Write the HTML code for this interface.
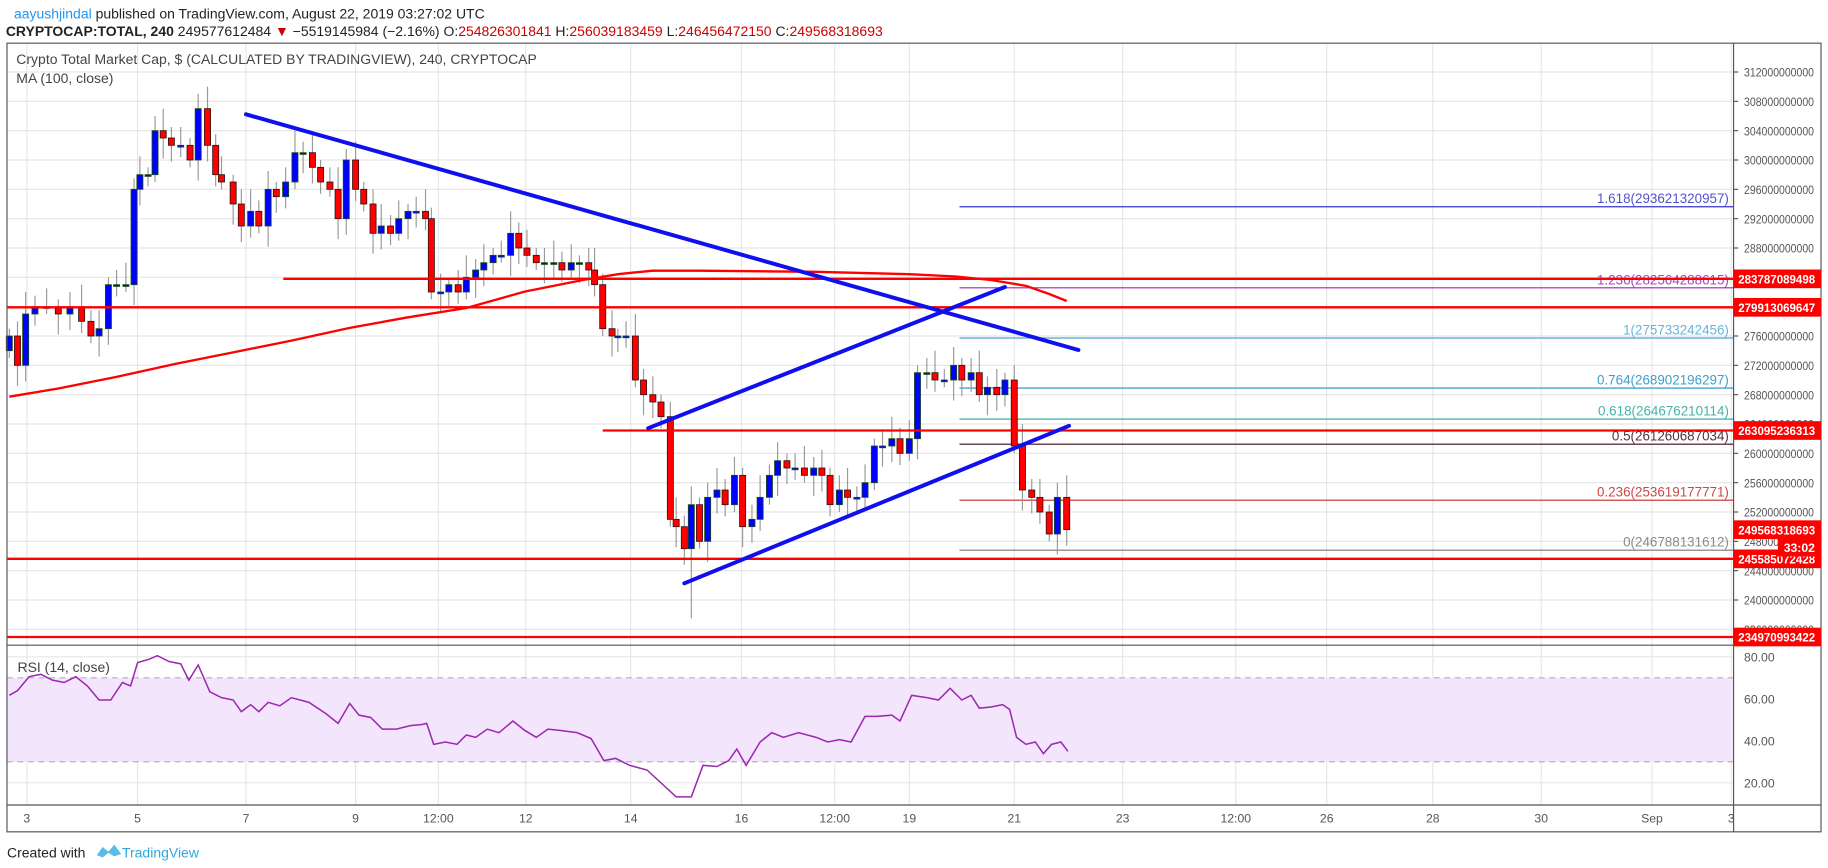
<!DOCTYPE html>
<html><head><meta charset="utf-8"><style>
html,body{margin:0;padding:0;background:#fff;width:1828px;height:868px;overflow:hidden}
svg{display:block;font-family:"Liberation Sans",sans-serif}
</style></head><body>
<svg id="s" width="1828" height="868" viewBox="0 0 1568 744" preserveAspectRatio="none">
<rect width="1568" height="744" fill="#fff"/>
<g id="grid" stroke="#e6e6e6" stroke-width="1"></g>
<rect x="6" y="581" width="1481" height="72" fill="#f3e5fc"/>
<line x1="6" x2="1487" y1="581" y2="581" stroke="#b8a8c0" stroke-dasharray="5,4"/>
<line x1="6" x2="1487" y1="653" y2="653" stroke="#b8a8c0" stroke-dasharray="5,4"/>
<g id="fib"></g>
<g id="cand"></g>
<polyline id="ma" fill="none" stroke="#f00" stroke-width="2" points="8,340 50,333 100,323 150,312 200,302 250,292 300,281 350,272 400,264 450,250 500,240 530,235 560,232 600,232 700,233 780,235 820,237 850,240 880,245 900,252 915,258"/>
<g stroke="#f00" stroke-width="2">
<line x1="243" x2="1487" y1="239" y2="239"/>
<line x1="6" x2="1487" y1="263.4" y2="263.4"/>
<line x1="517" x2="1487" y1="369" y2="369"/>
<line x1="6" x2="1487" y1="479" y2="479"/>
<line x1="6" x2="1487" y1="546" y2="546"/>
</g>
<g stroke="#1010ee" stroke-width="3.4" stroke-linecap="round">
<line x1="211" y1="98" x2="925" y2="300"/>
<line x1="556" y1="367" x2="862" y2="246"/>
<line x1="587" y1="500" x2="917" y2="365"/>
</g>
<polyline id="rsi" fill="none" stroke="#9c27b0" stroke-width="1.3"/>
<g id="axis" font-size="10.5" fill="#555"></g>
<g fill="none" stroke="#555" stroke-width="1">
<rect x="6" y="37" width="1556" height="676"/>
<line x1="1487" x2="1487" y1="37" y2="713"/>
<line x1="6" x2="1562" y1="553" y2="553"/>
<line x1="6" x2="1562" y1="690" y2="690"/>
</g>
<g id="tags" font-size="10.5" font-weight="bold" fill="#fff"></g>
<text x="12" y="16" font-size="12" fill="#222"><tspan fill="#2196f3">aayushjindal</tspan> published on TradingView.com, August 22, 2019 03:27:02 UTC</text>
<text x="5" y="31" font-size="12" fill="#222"><tspan font-weight="bold">CRYPTOCAP:TOTAL, 240</tspan> 249577612484 <tspan fill="#c00">▼</tspan> −5519145984 (−2.16%) O:<tspan fill="#c00">254826301841</tspan> H:<tspan fill="#c00">256039183459</tspan> L:<tspan fill="#c00">246456472150</tspan> C:<tspan fill="#c00">249568318693</tspan></text>
<text x="14" y="55" font-size="12" fill="#444">Crypto Total Market Cap, $ (CALCULATED BY TRADINGVIEW), 240, CRYPTOCAP</text>
<text x="14" y="71" font-size="12" fill="#444">MA (100, close)</text>
<text x="15" y="576" font-size="12" fill="#444">RSI (14, close)</text>
<text x="6" y="735" font-size="12" fill="#222">Created with <tspan fill="#2fa8e0" dx="28">TradingView</tspan></text>
<path d="M83 733 l5 -7 l5 4 l5 -6 l6 8 l-6 2 l-5 -3 l-5 4z" fill="#5bbbe8"/>
</svg>
<script>
const NS="http://www.w3.org/2000/svg";
function el(p,t,a,txt){const e=document.createElementNS(NS,t);for(const k in a)e.setAttribute(k,a[k]);if(txt!=null)e.textContent=txt;document.getElementById(p).appendChild(e);return e;}
const Y=v=>514.3+(240-v)*6.286, R=r=>563+(80-r)*1.8;
const dates=[[23,"3"],[118,"5"],[211,"7"],[305,"9"],[376,"12:00"],[451,"12"],[541,"14"],[636,"16"],[716,"12:00"],[780,"19"],[870,"21"],[963,"23"],[1060,"12:00"],[1138,"26"],[1229,"28"],[1322,"30"],[1417,"Sep"],[1485,"3"]];
dates.forEach(d=>{el("grid","line",{x1:d[0],x2:d[0],y1:37,y2:690});el("axis","text",{x:d[0],y:705,"text-anchor":"middle"},d[1]);});
for(let v=312;v>=236;v-=4){const y=Y(v);el("grid","line",{x1:6,x2:1487,y1:y,y2:y});el("axis","line",{x1:1487,x2:1491,y1:y,y2:y,stroke:"#555"});el("axis","text",{x:1496,y:y+4,textLength:60,lengthAdjust:"spacingAndGlyphs"},v+"000000000");}
[80,60,40,20].forEach(r=>{const y=R(r);el("grid","line",{x1:6,x2:1487,y1:y,y2:y});el("axis","text",{x:1496,y:y+4},r.toFixed(2));});
const fib=[["1.618(293621320957)",177.2,"#3535c8"],["1.236(282564288615)",246.7,"#9c27b0"],["1(275733242456)",289.7,"#4aa8d8"],["0.764(268902196297)",332.6,"#1f8fc0"],["0.618(264676210114)",359.2,"#26a69a"],["0.5(261260687034)",380.7,"#3a0a1a"],["0.236(253619177771)",428.7,"#c62828"],["0(246788131612)",471.6,"#777"]];
fib.forEach(f=>{el("fib","line",{x1:823,x2:1487,y1:f[1],y2:f[1],stroke:f[2],"stroke-width":1});el("fib","text",{x:1483,y:f[1]-3,"text-anchor":"end","font-size":"11.5",fill:f[2],opacity:.85},f[0]);});
const c=[[8,276],[15,272],[22,279],[30,280],[40,280],[50,279],[60,280],[70,278],[78,276],[85,277],[93,283],[100,283],[108,283],[115,296],[120,298],[127,298],[133,304],[140,303],[147,302],[155,302],[163,300],[170,307],[178,302],[185,298],[190,297],[200,294],[207,291],[215,293],[222,291],[230,296],[237,295],[245,297],[253,301],[260,301],[268,299],[275,297],[283,296],[290,292],[297,300],[305,296],[312,294],[320,290],[327,291],[335,290],[342,292],[350,293],[357,293],[365,292],[370,282],[378,282],[385,283],[393,282],[400,284],[408,285],[415,286],[423,287],[430,287],[438,290],[445,288],[452,287],[460,286],[467,286],[475,286],[482,285],[490,286],[497,286],[505,285],[510,283],[517,277],[525,276],[530,276],[537,276],[545,270],[552,268],[560,267],[567,265],[575,251],[580,250],[587,247],[593,253],[600,248],[607,254],[615,255],[622,253],[630,257],[637,250],[645,251],[652,254],[660,257],[667,259],[675,258],[682,258],[690,257],[698,258],[705,257],[712,253],[720,255],[727,254],[735,254],[742,256],[750,261],[757,261],[765,262],[772,260],[780,262],[787,271],[795,271],[802,270],[810,270],[818,272],[825,270],[833,271],[840,268],[847,269],[855,268],[862,270],[870,261],[877,255],[885,254],[892,252],[900,249],[907,254],[915,249.6]];
let prev=274;
c.forEach((p,i)=>{const o=prev,cl=p[1];const hi=Math.max(o,cl)+1+(i*7%5)*0.5,lo=Math.min(o,cl)-1-(i*3%4)*0.6;const low=(p[0]==593)?237.5:lo;
el("cand","line",{x1:p[0],x2:p[0],y1:Y(hi),y2:Y(low),stroke:"#999"});
const up=cl>=o;const t=Y(Math.max(o,cl)),b=Y(Math.min(o,cl));
el("cand","rect",{x:p[0]-2.6,y:t,width:5.2,height:Math.max(1.5,b-t),fill:up?"#0000ff":"#ff0000",stroke:up?"#1a4a1a":"#331010","stroke-width":.7});prev=cl;});
document.getElementById("rsi").setAttribute("points","8,596 15,592 25,580 35,578 45,583 55,585 65,580 75,588 85,600 95,600 105,585 112,588 118,568 128,565 135,562 145,567 155,569 162,583 170,570 180,593 190,598 200,600 207,610 215,604 222,610 230,602 240,605 250,598 265,602 280,612 290,620 300,603 308,613 318,615 328,625 340,625 352,622 362,621 366,620 372,638 382,636 392,638 400,630 408,632 418,625 428,628 440,618 450,626 460,632 470,625 480,626 495,628 507,633 518,652 528,650 540,656 555,660 568,672 580,683 593,683 603,656 615,657 625,652 632,642 640,656 652,636 662,628 672,632 685,628 700,632 710,636 720,634 730,636 742,614 752,614 765,613 772,618 782,596 795,598 805,600 815,590 825,600 833,596 840,607 850,606 860,604 866,608 872,632 880,638 888,636 895,646 902,638 910,636 916,644");
[["283787089498",239],["279913069647",263.4],["263095236313",369],["249568318693",454],["245585072428",479],["234970993422",546]].forEach(t=>{el("tags","rect",{x:1487,y:t[1]-8,width:75,height:16,fill:"#f00"});el("tags","text",{x:1491,y:t[1]+4,textLength:66,lengthAdjust:"spacingAndGlyphs"},t[0]);});
el("tags","rect",{x:1525,y:462,width:37,height:15,fill:"#f00"});el("tags","text",{x:1530,y:473},"33:02");
</script>
</body></html>
